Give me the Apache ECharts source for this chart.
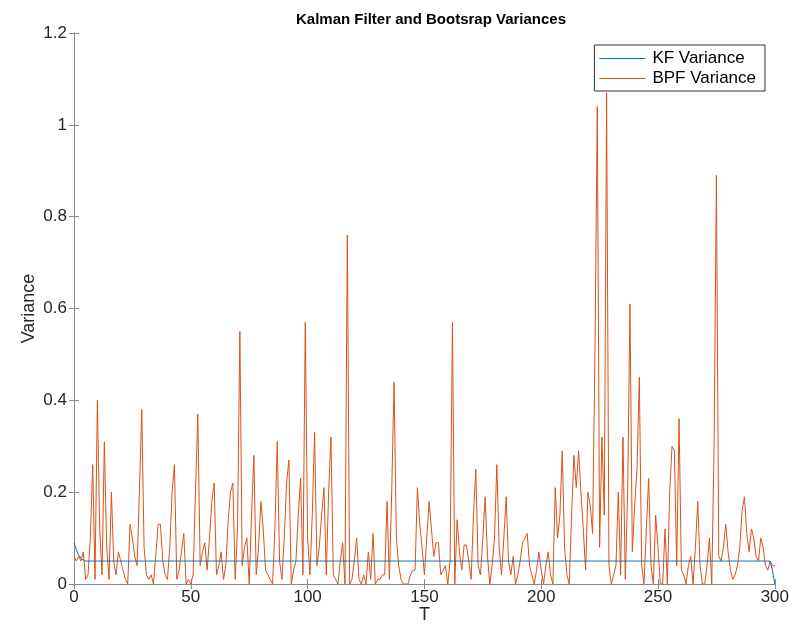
<!DOCTYPE html>
<html>
<head>
<meta charset="utf-8">
<script src="https://cdn.jsdelivr.net/npm/echarts@6/dist/echarts.min.js"></script>
<style>
  html, body { margin: 0; padding: 0; background: #fff; }
  #main { width: 792px; height: 639px; }
</style>
</head>
<body>
<div id="main"></div>
<script>
// KF variance, t = 0..300 (flat after the first few steps)
const kfHead = [0.09, 0.075, 0.063, 0.056, 0.052]
const kfFlat = 0.05
const kfTail = [0.03, 0.0]

// BPF variance, t = 0..300
const bpfVar = [
  0.06, 0.05, 0.06, 0.05, 0.07, 0.01, 0.02, 0.10, 0.26, 0.01,
  0.40, 0.12, 0.02, 0.31, 0.08, 0.01, 0.20, 0.05, 0.02, 0.07,
  0.05, 0.03, 0.01, 0.00, 0.13, 0.10, 0.06, 0.04, 0.20, 0.38,
  0.08, 0.02, 0.01, 0.02, 0.00, 0.06, 0.13, 0.13, 0.05, 0.02,
  0.01, 0.08, 0.20, 0.26, 0.01, 0.03, 0.07, 0.11, 0.00, 0.01,
  0.00, 0.02, 0.20, 0.37, 0.04, 0.07, 0.09, 0.03, 0.10, 0.18,
  0.22, 0.02, 0.04, 0.07, 0.01, 0.04, 0.14, 0.20, 0.22, 0.01,
  0.12, 0.55, 0.04, 0.08, 0.10, 0.00, 0.15, 0.28, 0.02, 0.08,
  0.18, 0.12, 0.03, 0.02, 0.01, 0.00, 0.12, 0.31, 0.05, 0.01,
  0.10, 0.22, 0.27, 0.00, 0.03, 0.05, 0.15, 0.23, 0.02, 0.57,
  0.10, 0.02, 0.15, 0.33, 0.04, 0.08, 0.15, 0.21, 0.02, 0.20,
  0.32, 0.02, 0.01, 0.00, 0.05, 0.09, 0.00, 0.76, 0.00, 0.01,
  0.05, 0.10, 0.01, 0.00, 0.02, 0.00, 0.07, 0.01, 0.11, 0.00,
  0.01, 0.01, 0.02, 0.02, 0.18, 0.01, 0.20, 0.44, 0.10, 0.04,
  0.01, 0.00, 0.00, 0.00, 0.02, 0.03, 0.03, 0.21, 0.13, 0.08,
  0.02, 0.10, 0.18, 0.12, 0.06, 0.09, 0.09, 0.02, 0.03, 0.04,
  0.00, 0.05, 0.57, 0.00, 0.14, 0.07, 0.03, 0.085, 0.085, 0.05,
  0.01, 0.15, 0.25, 0.04, 0.02, 0.10, 0.19, 0.06, 0.00, 0.04,
  0.10, 0.26, 0.08, 0.02, 0.10, 0.19, 0.05, 0.02, 0.06, 0.00,
  0.02, 0.05, 0.09, 0.10, 0.11, 0.04, 0.02, 0.00, 0.03, 0.07,
  0.03, 0.00, 0.04, 0.07, 0.02, 0.00, 0.21, 0.10, 0.15, 0.29,
  0.08, 0.02, 0.00, 0.15, 0.28, 0.21, 0.29, 0.20, 0.12, 0.03,
  0.20, 0.17, 0.11, 0.50, 1.04, 0.08, 0.32, 0.15, 1.07, 0.04,
  0.00, 0.02, 0.04, 0.20, 0.02, 0.32, 0.01, 0.20, 0.61, 0.07,
  0.17, 0.25, 0.45, 0.04, 0.00, 0.12, 0.23, 0.04, 0.00, 0.15,
  0.08, 0.00, 0.00, 0.12, 0.00, 0.20, 0.30, 0.29, 0.04, 0.36,
  0.03, 0.02, 0.00, 0.04, 0.06, 0.00, 0.08, 0.18, 0.04, 0.00,
  0.00, 0.04, 0.10, 0.00, 0.30, 0.89, 0.06, 0.05, 0.08, 0.13,
  0.07, 0.03, 0.01, 0.02, 0.04, 0.08, 0.16, 0.19, 0.11, 0.07,
  0.12, 0.10, 0.06, 0.05, 0.10, 0.08, 0.04, 0.03, 0.05, 0.04,
  0.04
]

const nPts = bpfVar.length
const kfVar = []
for (let i = 0; i < nPts; i++) {
  if (i < kfHead.length) kfVar.push(kfHead[i])
  else if (i >= nPts - kfTail.length) kfVar.push(kfTail[i - (nPts - kfTail.length)])
  else kfVar.push(kfFlat)
}

const chart = echarts.init(document.getElementById('main'))
const font = 'Liberation Sans, Arial, Helvetica, sans-serif'
const axisGray = '#8a8a8a'
const txt = '#262626'

const boxAxis = {
  axisLine: { show: true, lineStyle: { color: axisGray, width: 1 } },
  axisTick: { show: true, inside: true, length: 5, lineStyle: { color: axisGray } },
  splitLine: { show: false }
}

const option = {
  animation: false,
  textStyle: { fontFamily: font },
  title: {
    text: 'Kalman Filter and Bootsrap Variances',
    left: 426,
    top: 7,
    textAlign: 'center',
    textStyle: { fontSize: 15, fontWeight: 'bold', color: '#000', fontFamily: font }
  },
  legend: {
    orient: 'vertical',
    right: 27,
    top: 45,
    data: ['KF Variance', 'BPF Variance'],
    icon: 'rect',
    itemWidth: 46,
    itemHeight: 1.2,
    itemGap: 3,
    padding: [5, 9, 4, 5],
    borderColor: '#333',
    borderWidth: 1,
    backgroundColor: '#fff',
    textStyle: { fontSize: 17, color: '#000', fontFamily: font, padding: [0, 0, 0, 2] }
  },
  grid: { left: 74, right: 14, top: 33, bottom: 55 },
  xAxis: [
    Object.assign({
      type: 'value',
      min: 0, max: 300, interval: 50,
      position: 'bottom',
      name: 'T',
      nameLocation: 'middle',
      nameGap: 22,
      nameMoveOverlap: false,
      nameTextStyle: { fontSize: 18, color: txt },
      axisLabel: { fontSize: 17, color: txt, margin: 5 }
    }, boxAxis),
    Object.assign({
      type: 'value',
      min: 0, max: 300, interval: 50,
      position: 'top',
      axisLabel: { show: false }
    }, boxAxis)
  ],
  yAxis: [
    Object.assign({
      type: 'value',
      min: 0, max: 1.2, interval: 0.2,
      position: 'left',
      name: 'Variance',
      nameLocation: 'middle',
      nameGap: 36,
      nameMoveOverlap: false,
      nameTextStyle: { fontSize: 18, color: txt },
      axisLabel: {
        fontSize: 17, color: txt, margin: 7,
        formatter: v => String(+v.toFixed(1))
      }
    }, boxAxis),
    Object.assign({
      type: 'value',
      min: 0, max: 1.2, interval: 0.2,
      position: 'right',
      axisLabel: { show: false }
    }, boxAxis)
  ],
  series: [
    {
      name: 'KF Variance',
      type: 'line',
      symbol: 'none',
      color: '#0072BD',
      lineStyle: { width: 1, color: '#0072BD' },
      data: kfVar.map((v, i) => [i, v]),
      z: 3
    },
    {
      name: 'BPF Variance',
      type: 'line',
      symbol: 'none',
      color: '#D95319',
      lineStyle: { width: 1, color: '#D95319' },
      data: bpfVar.map((v, i) => [i, v]),
      z: 2
    }
  ]
}

chart.setOption(option)
</script>
</body>
</html>
